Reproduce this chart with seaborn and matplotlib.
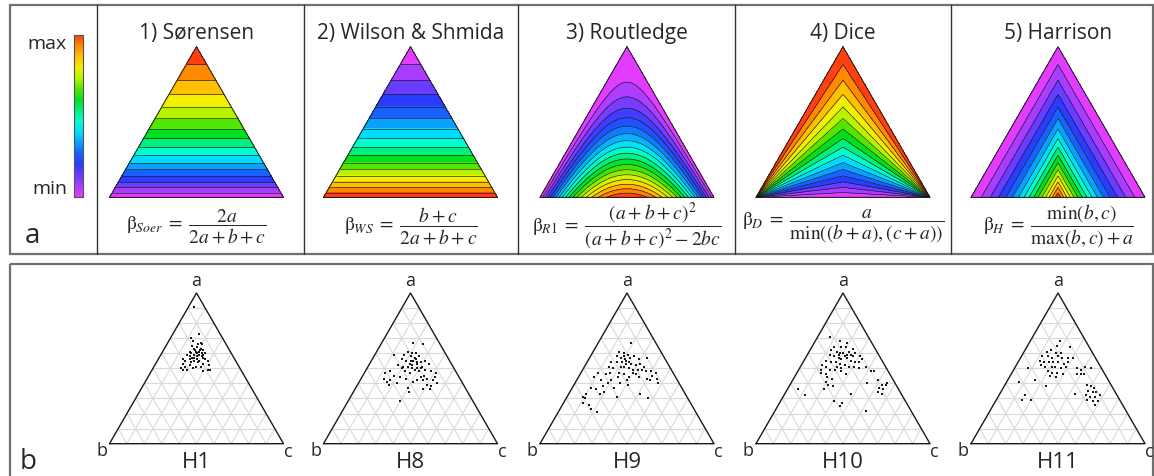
import numpy as np
import matplotlib
matplotlib.use("Agg")
import matplotlib.pyplot as plt
import matplotlib.tri as mtri
from matplotlib.colors import LinearSegmentedColormap
from matplotlib.patches import Rectangle
import seaborn as sns

# ---------------- panel a: similarity indices ----------------
index_titles = ["1) Sørensen", "2) Wilson & Shmida", "3) Routledge", "4) Dice", "5) Harrison"]
index_formulas = [
    r"$\mathrm{\beta}_{Soer}\;=\;\dfrac{2a}{2a+b+c}$",
    r"$\mathrm{\beta}_{WS}\;=\;\dfrac{b+c}{2a+b+c}$",
    r"$\mathrm{\beta}_{R1}\;=\;\dfrac{(a+b+c)^2}{(a+b+c)^2-2bc}$",
    r"$\mathrm{\beta}_{D}\;=\;\dfrac{a}{\min\left((b+a),(c+a)\right)}$",
    r"$\mathrm{\beta}_{H}\;=\;\dfrac{\min\left(b,c\right)}{\max\left(b,c\right)+a}$",
]
index_bands = [16, 16, 18, 16, 16]

# rainbow scale, min (magenta) -> max (red)
scale_colors = ["#e23cff", "#a83cff", "#6a3cff", "#2a3cff", "#1a60ff", "#0aa0ff",
                "#00dcff", "#00ffd0", "#00f080", "#00e020", "#50e800", "#b8f400",
                "#f0f000", "#ffc000", "#ff8a00", "#ff4010"]

# ---------------- panel b: habitat compositions (a, c; b = 1 - a - c) ----------------
hab_names = ["H1", "H8", "H9", "H10", "H11"]

h1_a = [0.91, 0.73, 0.70, 0.68, 0.67, 0.66, 0.65, 0.64, 0.63, 0.62, 0.62, 0.61, 0.61, 0.60,
        0.60, 0.59, 0.59, 0.58, 0.58, 0.57, 0.56, 0.55, 0.56, 0.56, 0.55, 0.56, 0.55, 0.53,
        0.54, 0.54, 0.53, 0.52, 0.50, 0.49, 0.49, 0.50, 0.51, 0.48, 0.49, 0.49, 0.51, 0.51,
        0.52, 0.60, 0.61, 0.63, 0.66, 0.59, 0.62, 0.55, 0.60, 0.57, 0.59, 0.58, 0.57]
h1_c = [0.03, 0.15, 0.12, 0.14, 0.19, 0.20, 0.15, 0.18, 0.21, 0.23, 0.18, 0.16, 0.21, 0.23,
        0.25, 0.15, 0.19, 0.21, 0.24, 0.19, 0.14, 0.16, 0.18, 0.22, 0.24, 0.27, 0.29, 0.16,
        0.20, 0.24, 0.27, 0.31, 0.16, 0.18, 0.20, 0.23, 0.27, 0.30, 0.32, 0.33, 0.18, 0.24,
        0.20, 0.17, 0.19, 0.17, 0.18, 0.24, 0.21, 0.21, 0.20, 0.20, 0.22, 0.17, 0.25]

h8_a = [0.67, 0.66, 0.61, 0.60, 0.60, 0.59, 0.58, 0.57, 0.58, 0.56, 0.55, 0.55, 0.56, 0.54,
        0.55, 0.52, 0.51, 0.51, 0.52, 0.50, 0.51, 0.53, 0.59, 0.48, 0.47, 0.43, 0.41, 0.39,
        0.45, 0.44, 0.48, 0.47, 0.49, 0.48, 0.45, 0.48, 0.47, 0.43, 0.42, 0.42, 0.41, 0.42,
        0.40, 0.39, 0.38, 0.36, 0.36, 0.37, 0.34, 0.28, 0.40, 0.42, 0.44, 0.44, 0.43, 0.50,
        0.53, 0.50, 0.49, 0.50, 0.55, 0.53, 0.54]
h8_c = [0.18, 0.24, 0.18, 0.21, 0.23, 0.17, 0.21, 0.24, 0.26, 0.17, 0.20, 0.23, 0.25, 0.29,
        0.31, 0.17, 0.20, 0.23, 0.25, 0.29, 0.31, 0.34, 0.11, 0.14, 0.12, 0.13, 0.16, 0.18,
        0.18, 0.22, 0.23, 0.26, 0.28, 0.31, 0.35, 0.38, 0.41, 0.38, 0.36, 0.33, 0.31, 0.42,
        0.45, 0.40, 0.43, 0.39, 0.43, 0.30, 0.32, 0.30, 0.22, 0.17, 0.42, 0.34, 0.26, 0.26,
        0.27, 0.31, 0.34, 0.20, 0.24, 0.23, 0.27]

h9_a = [0.67, 0.61, 0.60, 0.59, 0.58, 0.57, 0.56, 0.57, 0.58, 0.54, 0.54, 0.54, 0.53, 0.53,
        0.52, 0.53, 0.51, 0.57, 0.56, 0.51, 0.50, 0.51, 0.51, 0.50, 0.49, 0.49, 0.49, 0.48,
        0.48, 0.47, 0.45, 0.43, 0.42, 0.40, 0.43, 0.44, 0.46, 0.44, 0.46, 0.47, 0.47, 0.46,
        0.47, 0.44, 0.42, 0.40, 0.38, 0.36, 0.37, 0.33, 0.31, 0.30, 0.27, 0.26, 0.23, 0.21,
        0.33, 0.37, 0.40, 0.39, 0.42, 0.31, 0.33, 0.30, 0.44, 0.47, 0.42, 0.34, 0.58, 0.55,
        0.54, 0.54]
h9_c = [0.19, 0.15, 0.18, 0.21, 0.15, 0.18, 0.21, 0.23, 0.25, 0.14, 0.17, 0.20, 0.23, 0.26,
        0.29, 0.31, 0.34, 0.33, 0.29, 0.14, 0.17, 0.21, 0.23, 0.26, 0.29, 0.32, 0.34, 0.37,
        0.40, 0.43, 0.42, 0.46, 0.42, 0.48, 0.40, 0.35, 0.32, 0.29, 0.25, 0.22, 0.17, 0.15,
        0.10, 0.09, 0.14, 0.19, 0.17, 0.14, 0.11, 0.10, 0.09, 0.11, 0.11, 0.15, 0.18, 0.22,
        0.18, 0.24, 0.26, 0.31, 0.20, 0.29, 0.41, 0.47, 0.23, 0.30, 0.29, 0.20, 0.19, 0.22,
        0.20, 0.24]

h10_a = [0.71, 0.68, 0.67, 0.64, 0.64, 0.64, 0.63, 0.62, 0.61, 0.60, 0.60, 0.59, 0.59, 0.60,
         0.58, 0.59, 0.58, 0.57, 0.56, 0.57, 0.55, 0.54, 0.54, 0.56, 0.55, 0.54, 0.54, 0.53,
         0.52, 0.51, 0.51, 0.50, 0.51, 0.52, 0.51, 0.49, 0.49, 0.47, 0.46, 0.44, 0.43, 0.41,
         0.39, 0.38, 0.36, 0.48, 0.46, 0.49, 0.36, 0.32, 0.28, 0.27, 0.25, 0.33, 0.22, 0.40,
         0.48, 0.48, 0.42, 0.39, 0.39, 0.37, 0.36, 0.34, 0.33, 0.40, 0.59, 0.58, 0.61, 0.58,
         0.51, 0.50]
h10_c = [0.07, 0.14, 0.19, 0.13, 0.17, 0.20, 0.24, 0.12, 0.16, 0.18, 0.20, 0.23, 0.25, 0.27,
         0.31, 0.13, 0.16, 0.19, 0.21, 0.24, 0.27, 0.30, 0.32, 0.33, 0.13, 0.16, 0.19, 0.22,
         0.25, 0.28, 0.31, 0.34, 0.38, 0.12, 0.15, 0.18, 0.21, 0.14, 0.17, 0.19, 0.22, 0.20,
         0.22, 0.25, 0.21, 0.25, 0.29, 0.13, 0.06, 0.12, 0.31, 0.36, 0.36, 0.38, 0.52, 0.44,
         0.42, 0.44, 0.49, 0.53, 0.55, 0.52, 0.55, 0.53, 0.56, 0.55, 0.18, 0.22, 0.23, 0.27,
         0.21, 0.24]

h11_a = [0.68, 0.65, 0.61, 0.62, 0.60, 0.60, 0.58, 0.58, 0.57, 0.58, 0.57, 0.57, 0.57, 0.55,
         0.54, 0.54, 0.54, 0.54, 0.53, 0.54, 0.52, 0.51, 0.51, 0.51, 0.50, 0.51, 0.48, 0.47,
         0.47, 0.46, 0.45, 0.44, 0.64, 0.50, 0.49, 0.51, 0.50, 0.46, 0.46, 0.50, 0.42, 0.41,
         0.38, 0.32, 0.29, 0.29, 0.33, 0.39, 0.38, 0.37, 0.35, 0.34, 0.34, 0.32, 0.31, 0.31,
         0.29, 0.28, 0.28, 0.26, 0.32, 0.46]
h11_c = [0.17, 0.17, 0.13, 0.15, 0.19, 0.22, 0.12, 0.15, 0.18, 0.21, 0.24, 0.27, 0.30, 0.12,
         0.15, 0.18, 0.20, 0.23, 0.27, 0.29, 0.14, 0.17, 0.21, 0.23, 0.27, 0.29, 0.20, 0.23,
         0.26, 0.30, 0.23, 0.27, 0.25, 0.36, 0.39, 0.40, 0.44, 0.42, 0.38, 0.08, 0.16, 0.07,
         0.24, 0.15, 0.15, 0.20, 0.43, 0.47, 0.50, 0.52, 0.50, 0.53, 0.55, 0.50, 0.53, 0.56,
         0.52, 0.56, 0.59, 0.58, 0.58, 0.40]

hab_a = [h1_a, h8_a, h9_a, h10_a, h11_a]
hab_c = [h1_c, h8_c, h9_c, h10_c, h11_c]


def soerensen(a, b, c):
    return 2 * a / (2 * a + b + c)


def wilson_shmida(a, b, c):
    return (b + c) / (2 * a + b + c)


def routledge(a, b, c):
    s = a + b + c
    return s ** 2 / (s ** 2 - 2 * b * c)


def dice(a, b, c):
    with np.errstate(divide="ignore", invalid="ignore"):
        z = a / np.minimum(b + a, c + a)
    return np.where(np.isfinite(z), z, 0.5)


def harrison(a, b, c):
    return np.minimum(b, c) / (np.maximum(b, c) + a)


index_funcs = [soerensen, wilson_shmida, routledge, dice, harrison]

# ---------------- layout (pixels) ----------------
FW, FH = 1154, 477
H = np.sqrt(3) / 2
TRI_W = 174
centres = [196.5, 410.5, 627, 843, 1058]
TOP_APEX, BOT_APEX = 47.7, 294

sns.set_theme(style="white")
plt.rcParams["font.family"] = ["Open Sans", "DejaVu Sans"]
plt.rcParams["mathtext.fontset"] = "stix"

cmap = LinearSegmentedColormap.from_list("rainbow16", scale_colors)
fig = plt.figure(figsize=(FW / 100, FH / 100), dpi=100)


def fx(x):
    return x / FW


def fy(y):
    return 1 - y / FH


def tri_axes(cx, apex_y, m=0.12):
    left = cx - TRI_W * (0.5 + m)
    top = apex_y - TRI_W * m
    w = TRI_W * (1 + 2 * m)
    h = TRI_W * (H + 2 * m)
    ax = fig.add_axes([left / FW, 1 - (top + h) / FH, w / FW, h / FH])
    ax.set_xlim(-m, 1 + m)
    ax.set_ylim(-m, H + m)
    ax.axis("off")
    return ax


# background frames
bg = fig.add_axes([0, 0, 1, 1], zorder=-1)
bg.set_xlim(0, FW)
bg.set_ylim(FH, 0)
bg.axis("off")
bg.add_patch(Rectangle((10, 6), 1143, 249, fill=False, ec="#707070", lw=1.6))
bg.add_patch(Rectangle((10, 265), 1143, 220, fill=False, ec="#707070", lw=1.6))
for xd in [97, 303.5, 517.7, 735, 951]:
    bg.plot([xd, xd], [6, 255], color="#333333", lw=1)

# ternary lattice for the index surfaces
N = 160
ii, jj = np.meshgrid(np.arange(N + 1), np.arange(N + 1), indexing="ij")
keep = ii + jj <= N
ga = ii[keep] / N
gc = jj[keep] / N
gb = 1 - ga - gc
tri = mtri.Triangulation(gc + ga / 2, ga * H)

for k, (title, formula, func, nb) in enumerate(zip(index_titles, index_formulas,
                                                    index_funcs, index_bands)):
    ax = tri_axes(centres[k], TOP_APEX)
    z = func(ga, gb, gc)
    if func is routledge:
        q = np.linspace(0, 0.25, nb + 1)
        levels = 1 / (1 - 2 * q)
        levels[-1] += 1e-6
    else:
        levels = np.linspace(0, 1, nb + 1)
        levels[-1] += 1e-6
    band_colors = [cmap(i / (nb - 1)) for i in range(nb)]
    ax.tricontourf(tri, z, levels=levels, colors=band_colors)
    ax.tricontour(tri, z, levels=levels[1:-1], colors="k", linewidths=0.45)
    ax.plot([0, 1, 0.5, 0], [0, 0, H, 0], color="k", lw=0.7)
    fig.text(fx(centres[k]), fy(33), title, ha="center", va="center", fontsize=15)
    fig.text(fx(centres[k]), fy(226), formula, ha="center", va="center", fontsize=14)

# colour scale
cax = fig.add_axes([fx(74), fy(198), 9 / FW, 162 / FH])
cax.imshow(np.linspace(1, 0, 256)[:, None], aspect="auto", cmap=cmap)
cax.set_xticks([])
cax.set_yticks([])
for sp in cax.spines.values():
    sp.set_color("#555555")
    sp.set_linewidth(0.8)
fig.text(fx(67), fy(44), "max", ha="right", va="center", fontsize=14)
fig.text(fx(67), fy(189), "min", ha="right", va="center", fontsize=14)
fig.text(fx(32), fy(236), "a", ha="center", va="center", fontsize=20)
fig.text(fx(28), fy(462), "b", ha="center", va="center", fontsize=20)

# ternary scatter panels
for k, name in enumerate(hab_names):
    ax = tri_axes(centres[k], BOT_APEX)
    for t in np.arange(1, 10) / 10:
        ax.plot([t / 2, 1 - t / 2], [t * H, t * H], color="#d9d9d9", lw=0.8, zorder=1)
        ax.plot([t, t + (1 - t) / 2], [0, (1 - t) * H], color="#d9d9d9", lw=0.8, zorder=1)
        ax.plot([1 - t, (1 - t) / 2], [0, (1 - t) * H], color="#d9d9d9", lw=0.8, zorder=1)
    ax.plot([0, 1, 0.5, 0], [0, 0, H, 0], color="k", lw=1.0, zorder=2)
    a = np.array(hab_a[k])
    c = np.array(hab_c[k])
    sns.scatterplot(x=c + a / 2, y=a * H, ax=ax, marker="s", s=3.5, color="k",
                    linewidth=0, legend=False, zorder=3)
    ax.set_xlim(-0.12, 1.12)
    ax.set_ylim(-0.12, H + 0.12)
    ax.axis("off")
    ax.text(0.5, H + 0.075, "a", ha="center", va="center", fontsize=13)
    ax.text(-0.045, -0.035, "b", ha="center", va="center", fontsize=13)
    ax.text(1.025, -0.04, "c", ha="center", va="center", fontsize=13)
    ax.text(0.5, -0.1, name, ha="center", va="center", fontsize=16)

fig.savefig("out.png", dpi=100)
